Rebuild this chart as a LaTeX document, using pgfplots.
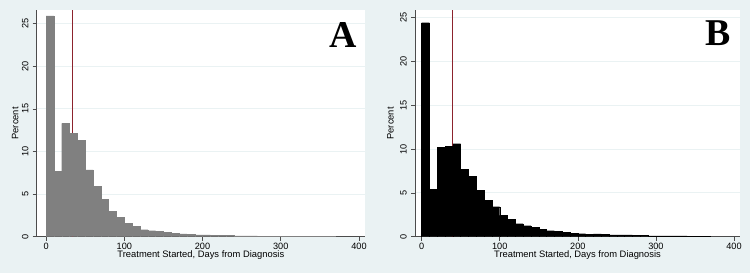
\documentclass[border=0pt]{standalone}
\usepackage{fontspec}
\setmainfont{Liberation Sans}
\newfontfamily\letterfont{Liberation Serif}
\usepackage{pgfplots}
\pgfplotsset{compat=1.18}
\definecolor{bgc}{RGB}{234,242,243}
\definecolor{gridc}{RGB}{234,242,243}
\definecolor{redc}{RGB}{140,35,45}
\definecolor{barA}{RGB}{128,128,128}
\pgfplotsset{
  stata/.style={
    scale only axis,
    height=226.7bp,
    ymin=0,
    axis x line*=bottom, axis y line*=left,
    axis line style={draw=black!70, line width=0.6bp},
    every tick/.style={draw=black!70, line width=0.6bp},
    tick align=outside,
    major tick length=4bp,
    axis background/.style={fill=white},
    ymajorgrids, grid style={draw=gridc, line width=0.8bp},
    xtick={0,100,200,300,400},
    ytick={0,5,10,15,20,25},
    tick label style={font=\fontsize{9.2}{9.2}\selectfont},
    /pgf/number format/assume math mode=true,
    xticklabel style={anchor=base},
    xticklabel shift=8.4bp,
    yticklabel style={rotate=90, anchor=base},
    yticklabel shift=4.4bp,
    label style={font=\fontsize{9.4}{9.4}\selectfont},
    xlabel={Treatment Started, Days from Diagnosis},
    ylabel={Percent},
    xlabel style={at={(axis description cs:0.5,0)}, anchor=base, yshift=-20.4bp},
  }
}
\pgfplotstableread{
x y
0 25.9
10 7.65
20 13.3
30 12.1
40 11.3
50 7.84
60 5.9
70 4.35
80 2.94
90 2.31
100 1.53
110 1.2
120 0.82
130 0.7
140 0.6
150 0.47
160 0.4
170 0.33
180 0.28
190 0.22
200 0.2
210 0.16
220 0.14
230 0.12
240 0.1
250 0.1
260 0.09
270 0.08
280 0.08
290 0.07
300 0.07
310 0.07
320 0.06
330 0.06
340 0.06
350 0.06
360 0.05
370 0
}\dataA
\pgfplotstableread{
x y
0 24.4
10 5.4
20 10.2
30 10.3
40 10.6
50 7.68
60 6.88
70 5.32
80 4.14
90 3.42
100 2.43
110 1.98
120 1.48
130 1.25
140 1.03
150 0.8
160 0.68
170 0.6
180 0.53
190 0.38
200 0.34
210 0.3
220 0.32
230 0.26
240 0.22
250 0.2
260 0.2
270 0.14
280 0.12
290 0.1
300 0.1
310 0.1
320 0.09
330 0.09
340 0.08
350 0.08
360 0.07
370 0
}\dataB
\begin{document}
\begin{tikzpicture}[x=1bp,y=1bp]
\fill[bgc] (0,0) rectangle (750,273);
\useasboundingbox (0,0) rectangle (750,273);
\begin{axis}[stata, at={(36.7bp,36.3bp)}, anchor=south west,
  width=328.3bp, xmin=-12, xmax=407.7, ymax=26.6,
  ylabel style={at={(axis description cs:-0.056,0.5)}, anchor=base}]
\addplot[draw=redc, line width=0.8bp] coordinates {(33,0) (33,26.6)};
\addplot[ybar interval, fill=barA, draw=barA] table[x=x,y=y] {\dataA};
\node[anchor=base east, font=\letterfont\bfseries\fontsize{38}{38}\selectfont] at (axis cs:401.3,22.2) {A};
\end{axis}
\begin{axis}[stata, at={(415bp,36.3bp)}, anchor=south west,
  width=325bp, xmin=-8.5, xmax=407.7, ymax=25.85,
  ylabel style={at={(axis description cs:-0.066,0.5)}, anchor=base}]
\addplot[draw=redc, line width=0.8bp] coordinates {(39.3,0) (39.3,25.85)};
\addplot[ybar interval, fill=black, draw=black] table[x=x,y=y] {\dataB};
\node[anchor=base east, font=\letterfont\bfseries\fontsize{38}{38}\selectfont] at (axis cs:400,21.8) {B};
\end{axis}
\end{tikzpicture}
\end{document}
